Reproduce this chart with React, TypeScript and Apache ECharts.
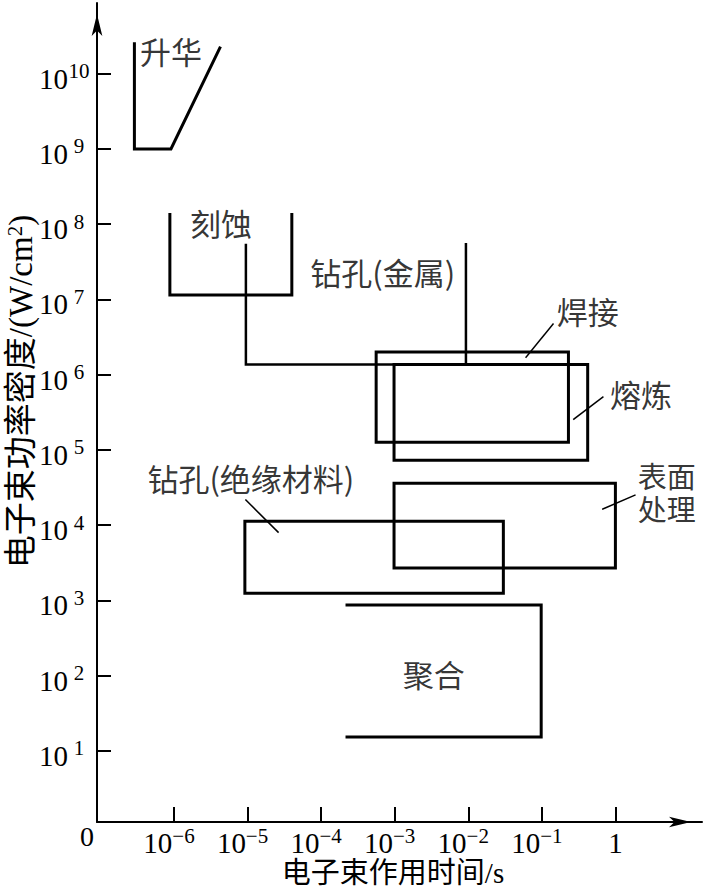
import React, { useEffect, useRef } from 'react';
import * as echarts from 'echarts';

// Axis ticks (powers of ten)
const xTickExponents = [-6, -5, -4, -3, -2, -1, 0];
const yTickExponents = [1, 2, 3, 4, 5, 6, 7, 8, 9, 10];

// Process regions: beam time (s) vs power density (W/cm²)
const sublimationTime = [2.9e-7, 2.9e-7, 9.1e-7, 4.2e-6];
const sublimationDensity = [2.5e10, 1.0e9, 1.0e9, 2.2e10];

const etchingTime = [8.8e-7, 8.8e-7, 4.0e-5, 4.0e-5];
const etchingDensity = [1.35e8, 1.15e7, 1.15e7, 1.35e8];

const metalDrillTime = [9.5e-6, 9.5e-6, 9.3e-3, 9.3e-3];
const metalDrillDensity = [5.3e7, 1.37e6, 1.37e6, 5.4e7];

// rectangles: [tMin, tMax], [pMin, pMax]
const weldingTime = [5.6e-4, 0.23];
const weldingDensity = [1.27e5, 2.0e6];
const meltingTime = [9.8e-4, 0.42];
const meltingDensity = [7.3e4, 1.37e6];
const surfaceTime = [9.8e-4, 1.0];
const surfaceDensity = [2.7e3, 3.6e4];
const insulatorDrillTime = [9.2e-6, 0.03];
const insulatorDrillDensity = [1.25e3, 1.13e4];

const polymerTime = [2.25e-4, 0.098, 0.098, 2.25e-4];
const polymerDensity = [870, 870, 15.3, 15.3];

// leader lines
const weldingLeaderTime = [0.061, 0.142];
const weldingLeaderDensity = [1.71e6, 4.7e6];
const meltingLeaderTime = [0.272, 0.675];
const meltingLeaderDensity = [2.57e5, 5.04e5];
const surfaceLeaderTime = [0.675, 1.84];
const surfaceLeaderDensity = [1.64e4, 2.51e4];
const insulatorLeaderTime = [9.5e-6, 2.6e-5];
const insulatorLeaderDensity = [2.16e4, 8.1e3];

// region labels
const labelNames = ['升华', '刻蚀', '钻孔(金属)', '焊接', '熔炼', '表面', '处理', '钻孔(绝缘材料)', '聚合'];
const labelTime = [9.1e-7, 4.35e-6, 6.9e-4, 0.42, 2.23, 5.0, 5.0, 1.11e-5, 3.4e-3];
const labelDensity = [2.05e10, 1.06e8, 2.38e7, 7.2e6, 5.7e5, 4.3e4, 1.55e4, 4.36e4, 108];
const labelSizes = [31, 31, 31, 31, 31, 29, 29, 31, 31];

const X_MIN = -7.046;
const X_MAX = 1.177;
const Y_MIN = 0.056;
const Y_MAX = 10.94;

const SERIF = "Liberation Serif, Noto Sans CJK SC, serif";
const CJK = "Noto Sans CJK SC, sans-serif";

const lg = (v: number) => Math.log10(v);
const pts = (t: number[], p: number[]) => t.map((v, i) => [lg(v), lg(p[i])]);
const rect = (t: number[], p: number[]) => pts(
  [t[0], t[1], t[1], t[0], t[0]],
  [p[1], p[1], p[0], p[0], p[1]]
);

const lineSeries = (data: number[][], width: number) => ({
  type: 'line',
  data,
  symbol: 'none',
  showSymbol: false,
  silent: true,
  clip: false,
  lineStyle: { color: '#000', width, cap: 'square', join: 'miter' },
});

export default function App() {
  const ref = useRef<HTMLDivElement>(null);
  useEffect(() => {
    if (!ref.current) return;
    const chart = echarts.init(ref.current, undefined, { renderer: 'svg' });
    const option = {
      animation: false,
      backgroundColor: '#fff',
      grid: { left: 97, right: 2, top: 3, bottom: 70, containLabel: false, outerBoundsMode: 'none' },
      xAxis: {
        type: 'value',
        min: X_MIN,
        max: X_MAX,
        splitLine: { show: false },
        axisLine: {
          show: true,
          onZero: false,
          lineStyle: { color: '#000', width: 2 },
          symbol: ['none', 'arrow'],
          symbolSize: [8, 22],
          symbolOffset: [0, -11],
        },
        axisTick: {
          show: true,
          inside: true,
          length: 15,
          customValues: xTickExponents,
          lineStyle: { color: '#000', width: 2 },
        },
        axisLabel: {
          customValues: xTickExponents,
          margin: 3,
          color: '#000',
          fontFamily: SERIF,
          formatter: (v: number) => (v === 0 ? '{b|1}' : '{b|10}{s|−' + Math.abs(v) + '}'),
          rich: {
            b: { fontSize: 29, lineHeight: 36, fontFamily: SERIF, color: '#000' },
            s: { fontSize: 21, lineHeight: 20, verticalAlign: 'top', fontFamily: SERIF, color: '#000', padding: [0, 10, 0, 0] },
          },
        },
        name: '电子束作用时间/s',
        nameLocation: 'middle',
        nameGap: 36.5,
        nameMoveOverlap: false,
        nameTextStyle: { fontSize: 29, fontFamily: SERIF, color: '#000', padding: [0, 13, 0, 0] },
      },
      yAxis: {
        type: 'value',
        min: Y_MIN,
        max: Y_MAX,
        splitLine: { show: false },
        axisLine: {
          show: true,
          onZero: false,
          lineStyle: { color: '#000', width: 2 },
          symbol: ['none', 'arrow'],
          symbolSize: [8, 22],
          symbolOffset: [0, -11],
        },
        axisTick: {
          show: true,
          inside: true,
          length: 14,
          customValues: yTickExponents,
          lineStyle: { color: '#000', width: 2 },
        },
        axisLabel: {
          customValues: yTickExponents,
          margin: 7,
          color: '#000',
          padding: [10, 0, 0, 0],
          formatter: (v: number) => '{b|10}{s|' + v + '}',
          rich: {
            b: { fontSize: 29, lineHeight: 36, fontFamily: SERIF, color: '#000', align: 'center' },
            s: { fontSize: 21, lineHeight: 20, width: 22, align: 'center', verticalAlign: 'top', fontFamily: SERIF, color: '#000' },
          },
        },
        name: '电子束功率密度/(W/cm{s|2})',
        nameLocation: 'middle',
        nameGap: 60,
        nameMoveOverlap: false,
        nameTextStyle: {
          fontSize: 33,
          fontFamily: SERIF,
          color: '#000',
          padding: [0, 0, 0, 42],
          rich: { s: { fontSize: 21, verticalAlign: 'top', fontFamily: SERIF, color: '#000' } },
        },
      },
      graphic: [
        { type: 'text', left: 80, top: 822, style: { text: '0', fontSize: 28, fontFamily: SERIF, fill: '#000' } },
      ],
      series: [
        lineSeries(pts(sublimationTime, sublimationDensity), 3),
        lineSeries(pts(etchingTime, etchingDensity), 3),
        lineSeries(pts(metalDrillTime, metalDrillDensity), 2.5),
        lineSeries(rect(weldingTime, weldingDensity), 3),
        lineSeries(rect(meltingTime, meltingDensity), 3),
        lineSeries(rect(surfaceTime, surfaceDensity), 3),
        lineSeries(rect(insulatorDrillTime, insulatorDrillDensity), 3),
        lineSeries(pts(polymerTime, polymerDensity), 3),
        lineSeries(pts(weldingLeaderTime, weldingLeaderDensity), 1.5),
        lineSeries(pts(meltingLeaderTime, meltingLeaderDensity), 1.5),
        lineSeries(pts(surfaceLeaderTime, surfaceLeaderDensity), 1.5),
        lineSeries(pts(insulatorLeaderTime, insulatorLeaderDensity), 1.5),
        {
          type: 'scatter',
          silent: true,
          clip: false,
          symbolSize: 1,
          itemStyle: { color: 'rgba(0,0,0,0)' },
          data: labelNames.map((n, i) => ({
            name: n,
            value: [lg(labelTime[i]), lg(labelDensity[i])],
            label: labelSizes[i] < 31 ? { fontSize: labelSizes[i], fontFamily: SERIF } : { fontSize: labelSizes[i] },
          })),
          label: {
            show: true,
            position: 'inside',
            formatter: '{b}',
            fontSize: 31,
            fontFamily: CJK,
            color: '#000',
          },
        },
      ],
    };
    chart.setOption(option as any);
    return () => chart.dispose();
  }, []);
  return <div ref={ref} style={{ position: 'fixed', left: 0, top: 0, width: 704, height: 892, background: '#fff' }} />;
}
